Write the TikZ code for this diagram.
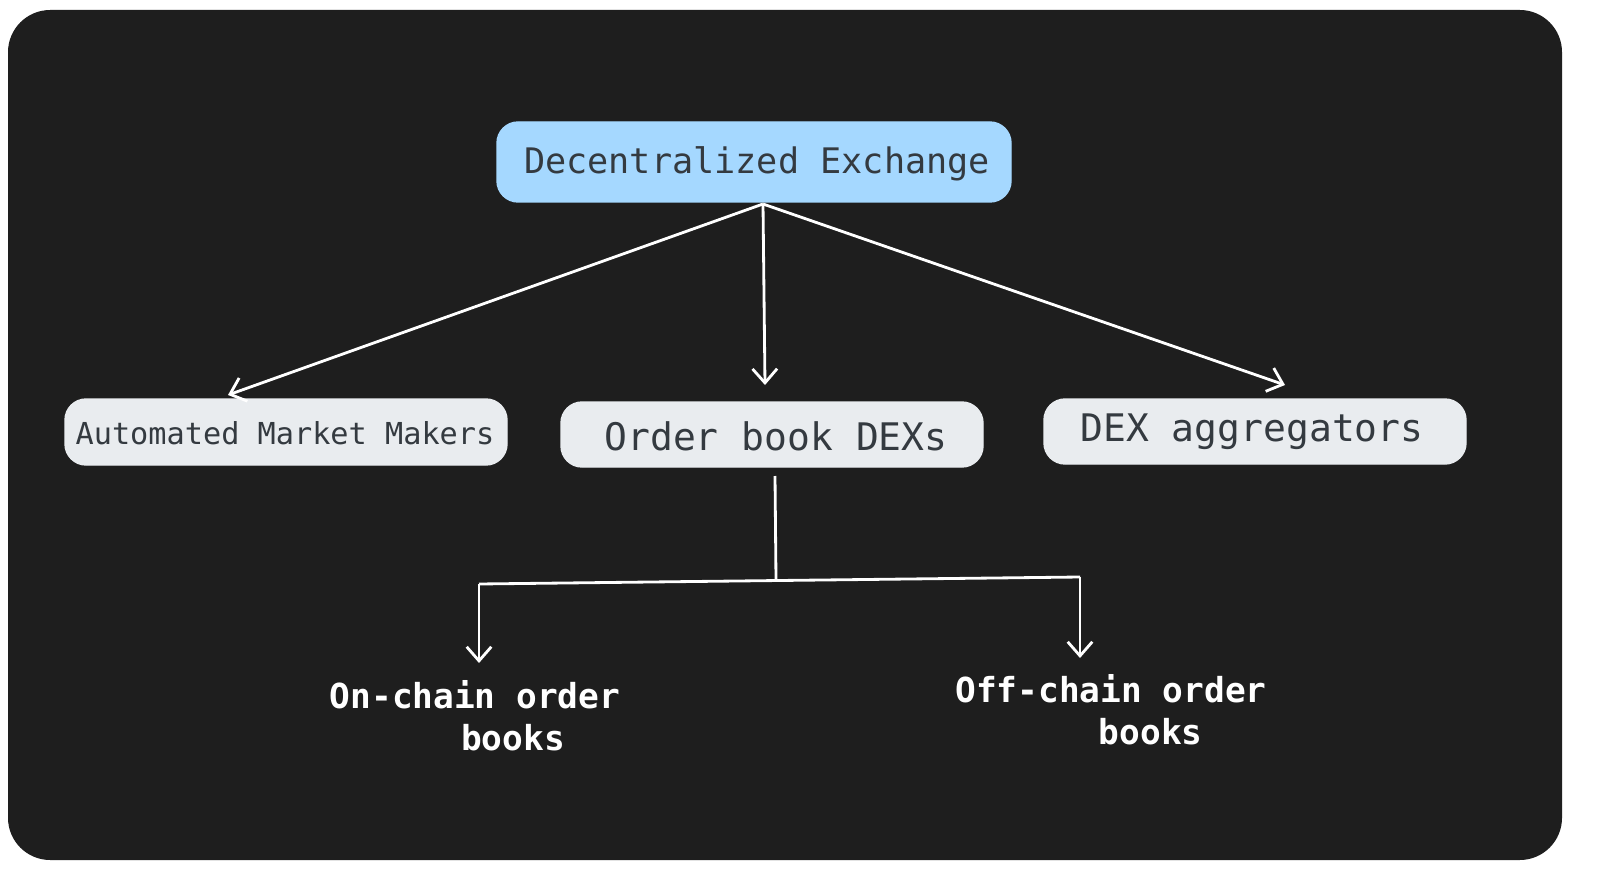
\documentclass[tikz,border=0pt]{standalone}
\usepackage{fontspec}
\setmonofont{DejaVu Sans Mono}
\usetikzlibrary{arrows.meta}
\definecolor{bgdark}{HTML}{1E1E1E}
\definecolor{topblue}{HTML}{A5D8FF}
\definecolor{boxgrey}{HTML}{E9ECEF}
\definecolor{txtdark}{HTML}{343A40}
\tikzset{
  box/.style={rounded corners=6pt, text=txtdark, font=\ttfamily},
  leaf/.style={text=white, font=\ttfamily\bfseries\fontsize{9.8}{12}\selectfont, align=center},
  link/.style={draw=white, line width=0.8pt, -{Straight Barb[length=4pt,width=7pt]}},
  plain/.style={draw=white, line width=0.8pt}
}
\begin{document}
\begin{tikzpicture}[x=0.01cm,y=-0.01cm]
\useasboundingbox (0,0) rectangle (1600,885);
\fill[white] (0,0) rectangle (1600,885);
\fill[bgdark, rounded corners=12pt] (8,10) rectangle (1562,860);
% boxes
\filldraw[box, fill=topblue, draw=topblue] (497,122) rectangle (1011,202);
\node[box] (dex) at (757,164) {\fontsize{10}{12}\selectfont Decentralized Exchange};
\filldraw[box, fill=boxgrey, draw=boxgrey] (65,399) rectangle (507,465);
\node[box] (amm) at (285,433) {\fontsize{8.6}{11}\selectfont Automated Market Makers};
\filldraw[box, fill=boxgrey, draw=boxgrey] (561,402) rectangle (983,467);
\node[box] (obd) at (776,436) {\fontsize{10.8}{13}\selectfont Order book DEXs};
\filldraw[box, fill=boxgrey, draw=boxgrey] (1044,399) rectangle (1466,464);
\node[box] (agg) at (1252,432) {\fontsize{10.8}{13}\selectfont DEX aggregators};
% leaves
\node[leaf] (onc) at (475,716) {On-chain order\\\hspace*{2.2em}books};
\node[leaf] (offc) at (1111,710) {Off-chain order\\\hspace*{2.3em}books};
% connectors
\coordinate (dexb) at (763,204);
\coordinate (ammt) at (228,395);
\coordinate (obdt) at (765,385);
\coordinate (aggt) at (1285,385);
\coordinate (obdb) at (775,476);
\coordinate (split) at (776,580);
\coordinate (jl) at (479,584);
\coordinate (jr) at (1080,577);
\coordinate (onct) at (479,663);
\coordinate (offct) at (1080,658);
\draw[link] (dexb) -- (ammt);
\draw[link] (dexb) -- (obdt);
\draw[link] (dexb) -- (aggt);
\draw[plain] (obdb) -- (split);
\draw[plain] (jl) -- (jr);
\draw[link] (jl) -- (onct);
\draw[link] (jr) -- (offct);
\end{tikzpicture}
\end{document}
